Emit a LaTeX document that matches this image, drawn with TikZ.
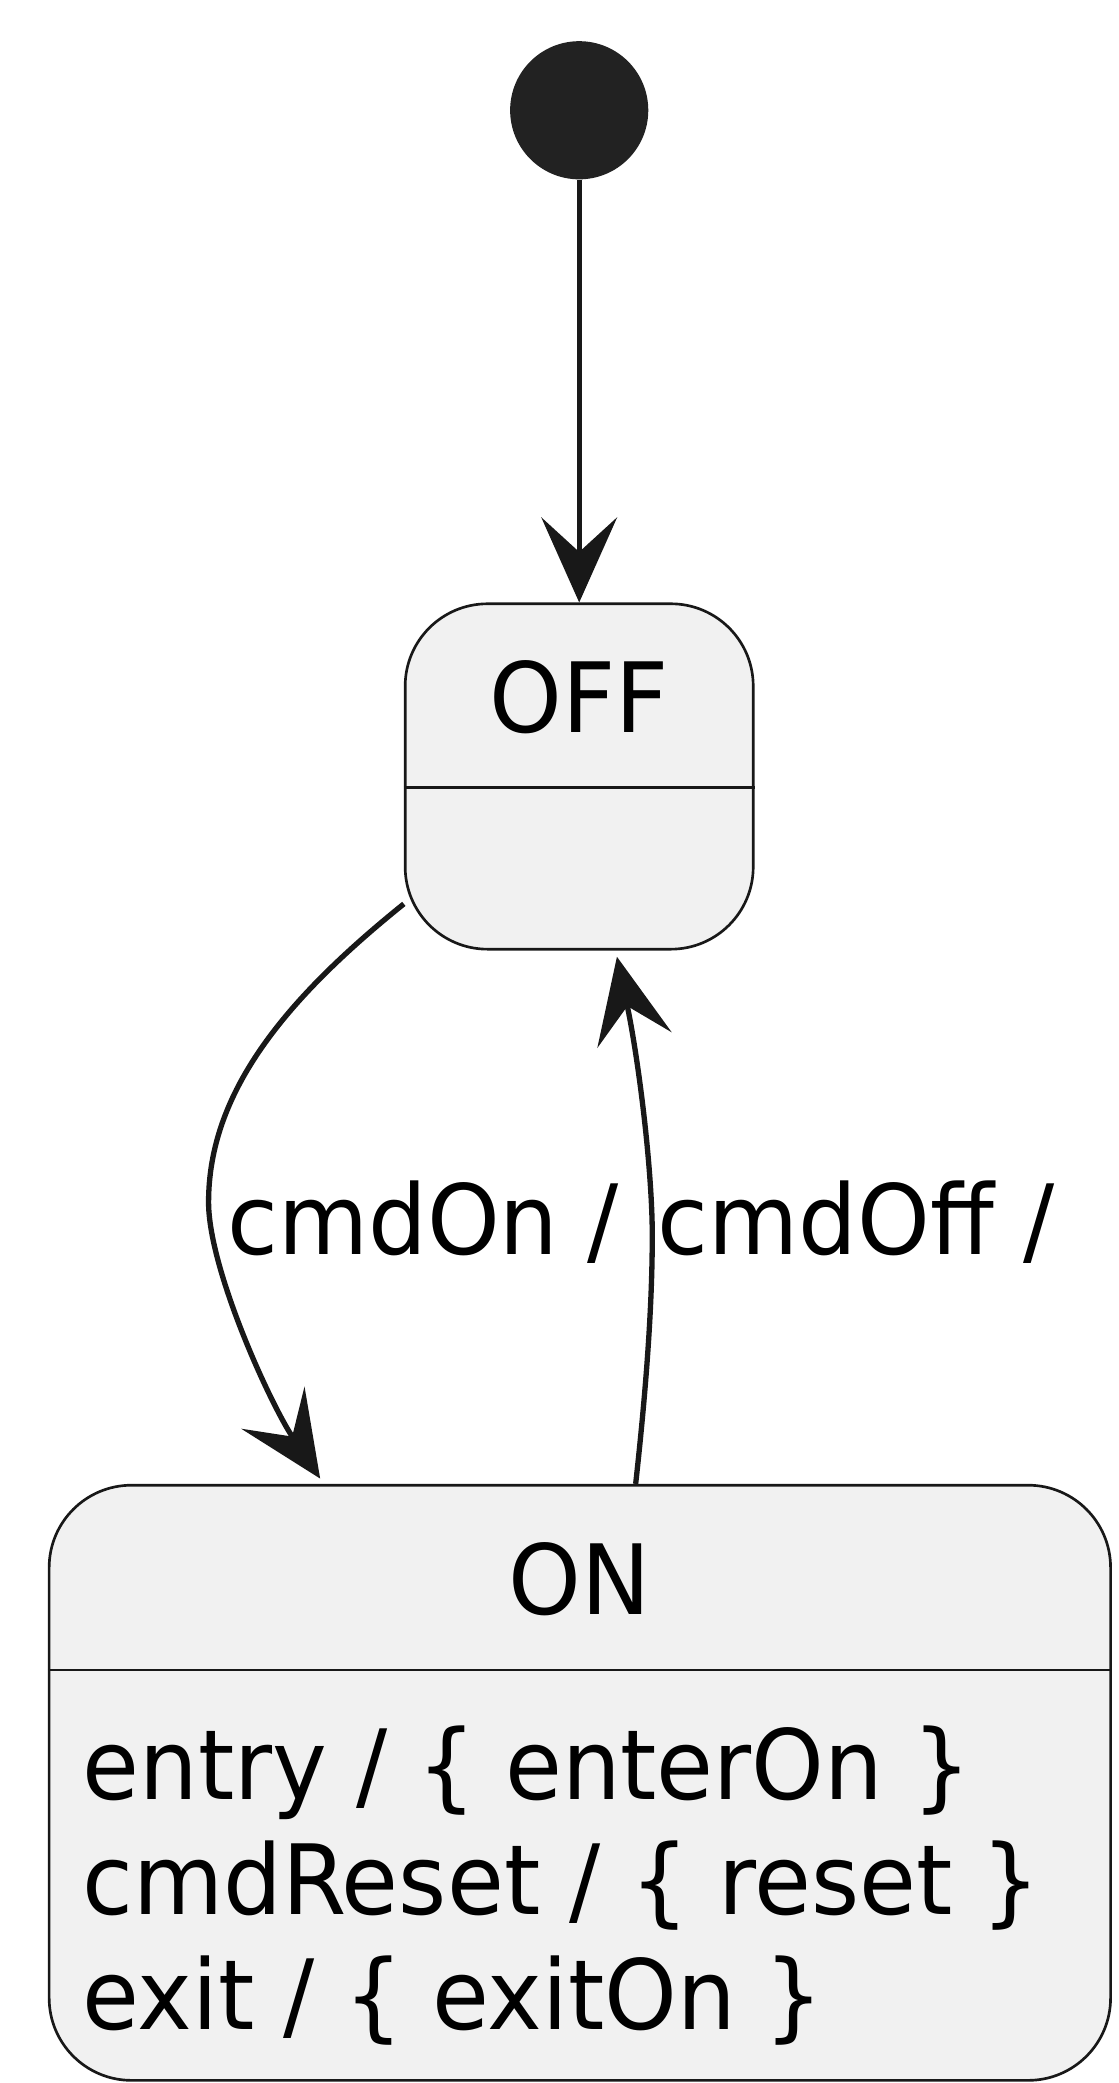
\documentclass[tikz,border=0pt]{standalone}
\usepackage{fontspec}
\setmainfont{DejaVu Sans Condensed}[FakeStretch=1.06]
\usepackage{xcolor}
\usepackage{tikz}
\usetikzlibrary{arrows.meta,positioning,calc}
\definecolor{stfill}{HTML}{F1F1F1}
\definecolor{stline}{HTML}{181818}
\definecolor{stdot}{HTML}{222222}

\begin{document}
\begin{tikzpicture}[x=1pt,y=-1pt,font=\fontsize{73}{86}\selectfont]
          \tikzstyle{state}=[draw=stline,line width=2pt,fill=stfill,rounded corners=62pt,inner sep=0pt]
          \tikzstyle{sname}=[anchor=base,inner sep=0pt]
          \tikzstyle{act}=[anchor=base west,inner sep=0pt]
          \tikzstyle{trans}=[-{Stealth[length=64pt,width=57pt,inset=26pt]},line width=4pt,stline]
          \useasboundingbox (0,0) rectangle (842,1568);
          \node[circle,fill=stdot,minimum size=104pt,inner sep=0pt] (init) at (436,83) {};
          \node[state,minimum width=262pt,minimum height=260pt] (off) at (436,584.5) {};
          \node[state,minimum width=799pt,minimum height=448pt] (on) at (436.5,1342) {};
          % names and separators
          \node[sname] (offname) at (436,551.5) {OFF};
          \draw[stline,line width=2pt] (off.west |- 0,593) -- (off.east |- 0,593);
          \node[sname] (onname) at (436.5,1215) {ON};
          \draw[stline,line width=2pt] (on.west |- 0,1257) -- (on.east |- 0,1257);
          % internal activities of ON
          \node[act] (entry) at (62,1354.5) {entry / \{ enterOn \}};
          \node[act] (reset) at (62,1441) {cmdReset / \{ reset \}};
          \node[act] (exit) at (62,1527.5) {exit / \{ exitOn \}};
          % transitions
          \draw[trans] (init) -- (off);
          \draw[trans] (off.216) .. controls (215,752) and (157,822) .. (157,905)
            .. controls (157,955) and (203,1056) .. ($(on.north west)+(205,-4)$);
          \draw[trans] ($(on.north west)+(442.5,0)$) .. controls (487,1040) and (491,980) .. (491,930)
            .. controls (491,880) and (480.7,797.5) .. ($(off.south)+(28.4,4.7)$);
          \node[act] (lblon) at (171,944) {cmdOn /};
          \node[act] (lbloff) at (495,944) {cmdOff /};
        \end{tikzpicture}
\end{document}
